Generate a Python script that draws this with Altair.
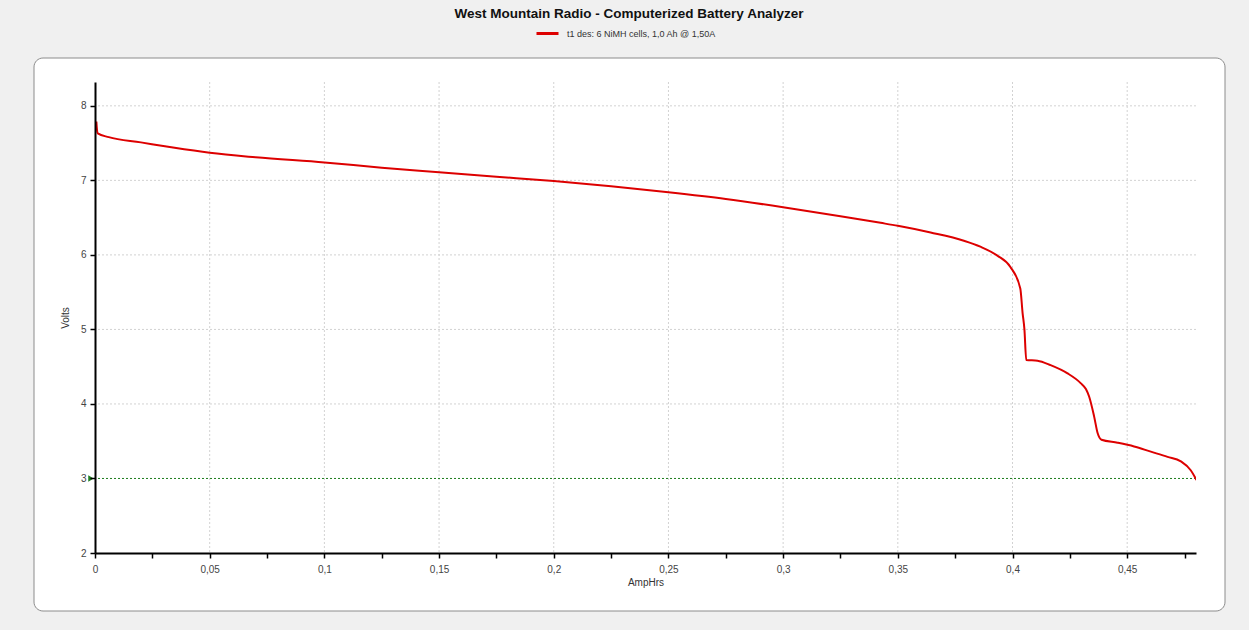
import altair as alt
import pandas as pd

# ---- data ----
amp_hours = [0.0006, 0.0008, 0.0012, 0.006, 0.02, 0.034, 0.05, 0.07, 0.1, 0.125, 0.15, 0.175,
             0.2, 0.225, 0.25, 0.275, 0.3, 0.325, 0.3425, 0.35, 0.3643, 0.3788, 0.386, 0.3934,
             0.399, 0.4034, 0.4044, 0.4052, 0.406, 0.4109, 0.4166, 0.424, 0.4297, 0.432, 0.4334,
             0.4356, 0.4371, 0.4388, 0.4458, 0.453, 0.4603, 0.4676, 0.4734, 0.4777, 0.4802]
volts = [7.79, 7.70, 7.63, 7.58, 7.51, 7.44, 7.37, 7.31, 7.24, 7.17, 7.11, 7.05,
         6.99, 6.92, 6.84, 6.75, 6.64, 6.52, 6.43, 6.39, 6.30, 6.19, 6.11, 5.99,
         5.84, 5.55, 5.22, 5.00, 4.59, 4.58, 4.52, 4.41, 4.28, 4.20, 4.10,
         3.83, 3.61, 3.52, 3.48, 3.43, 3.36, 3.29, 3.23, 3.11, 2.98]
series_name = "t1 des: 6 NiMH cells, 1,0 Ah @ 1,50A"
cutoff_volts = [3.0]
x_ticks = [0, 0.025, 0.05, 0.075, 0.1, 0.125, 0.15, 0.175, 0.2, 0.225, 0.25, 0.275,
           0.3, 0.325, 0.35, 0.375, 0.4, 0.425, 0.45, 0.475]
y_ticks = [2, 2.5, 3, 3.5, 4, 4.5, 5, 5.5, 6, 6.5, 7, 7.5, 8]
title_text = "West Mountain Radio - Computerized Battery Analyzer"

df = pd.DataFrame({"AmpHrs": amp_hours, "Volts": volts,
                   "series": series_name, "idx": range(len(volts))})
cut = pd.DataFrame({"v": cutoff_volts})
x_grid = pd.DataFrame({"g": [t for t in x_ticks if abs(t * 20 - round(t * 20)) < 1e-9 and t > 0]})
y_grid = pd.DataFrame({"g": [t for t in y_ticks if float(t).is_integer() and t > 2]})

FONT = "Liberation Sans"
W, H = 1101, 471
GRID = "#d2d2d2"

xscale = alt.Scale(domain=[0, 0.48], nice=False, zero=False)
yscale = alt.Scale(domain=[2, 8.32], nice=False, zero=False)

x_major = "abs(datum.value*20 - round(datum.value*20)) < 1e-6"
y_major = "abs(datum.value - round(datum.value)) < 1e-6"

x_axis = alt.Axis(
    values=x_ticks, title="AmpHrs", zindex=1, grid=False,
    labelExpr=f"{x_major} ? replace(toString(round(datum.value*100)/100), '.', ',') : ''",
    domainColor="#000000", domainWidth=2, tickColor="#000000", tickWidth=1.5, tickSize=5,
    labelFont=FONT, labelFontSize=10, labelColor="#444444", labelPadding=6,
    titleFont=FONT, titleFontSize=10, titleFontWeight="normal", titleColor="#333333",
    titlePadding=3, labelFlush=False,
)
y_axis = alt.Axis(
    values=y_ticks, title="Volts", zindex=1, grid=False,
    labelExpr=f"{y_major} ? toString(round(datum.value)) : ''",
    domainColor="#000000", domainWidth=2, tickColor="#000000", tickWidth=1.5, tickSize=5,
    labelFont=FONT, labelFontSize=10, labelColor="#444444", labelPadding=4,
    titleFont=FONT, titleFontSize=10, titleFontWeight="normal", titleColor="#333333",
    titlePadding=10,
)

panel = alt.Chart(pd.DataFrame({"a": [0]})).mark_rect(
    fill="white", stroke="#8c8c8c", strokeWidth=1, cornerRadius=9
).encode(
    x=alt.value(-61), x2=alt.value(1130), y=alt.value(-24), y2=alt.value(529)
)

grid_x = alt.Chart(x_grid).mark_rule(color=GRID, strokeWidth=1, strokeDash=[2, 2]).encode(
    x=alt.X("g:Q", scale=xscale)
)
grid_y = alt.Chart(y_grid).mark_rule(color=GRID, strokeWidth=1, strokeDash=[2, 2]).encode(
    y=alt.Y("g:Q", scale=yscale)
)

curve = alt.Chart(df).mark_line(strokeWidth=2, clip=True, interpolate="monotone").encode(
    x=alt.X("AmpHrs:Q", scale=xscale, axis=x_axis),
    y=alt.Y("Volts:Q", scale=yscale, axis=y_axis),
    order="idx:Q",
    color=alt.Color("series:N", scale=alt.Scale(range=["#dd0000"]),
                    legend=alt.Legend(orient="none", legendX=440, legendY=-61, title=None,
                                      symbolType="stroke", symbolSize=484,
                                      symbolStrokeWidth=3, padding=0, labelOffset=7,
                                      labelFont=FONT, labelFontSize=9,
                                      labelColor="#333333", labelLimit=400)),
)

cut_line = alt.Chart(cut).mark_rule(color="#1f7f1f", strokeWidth=1, strokeDash=[2, 2]).encode(
    y=alt.Y("v:Q", scale=yscale)
)
cut_marker = alt.Chart(cut).mark_point(
    shape="triangle-right", filled=True, color="#1f7f1f", size=40, opacity=1
).encode(
    y=alt.Y("v:Q", scale=yscale), x=alt.value(-4)
)

title = alt.Chart(pd.DataFrame({"t": [title_text]})).mark_text(
    font=FONT, fontSize=13.5, fontWeight="bold", color="#111111", align="center", baseline="middle"
).encode(text="t:N", x=alt.value(534), y=alt.value(-68))

chart = alt.layer(panel, grid_x, grid_y, cut_line, curve, cut_marker, title).properties(
    width=W, height=H,
    autosize=alt.AutoSizeParams(type="none"),
    padding={"left": 95, "top": 82, "right": 53, "bottom": 77},
    background="#f0f0f0",
).configure_view(stroke=None)

chart.save("out.html", embed_options={"renderer": "svg", "actions": False})
